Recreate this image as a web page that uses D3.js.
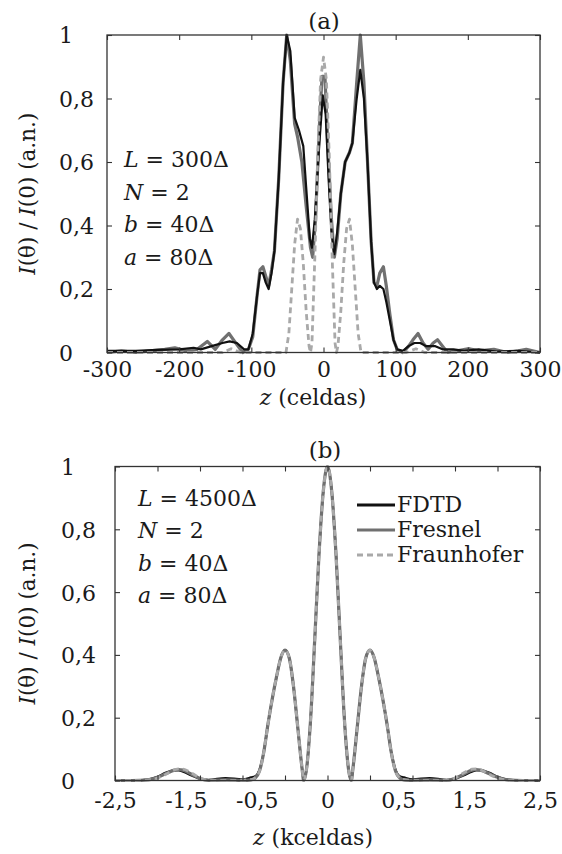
<!DOCTYPE html>
<html>
<head>
<meta charset="utf-8">
<script src="https://d3js.org/d3.v7.min.js"></script>
<style>
body { margin: 0; background: #fff; }
text { font-family: "DejaVu Serif", "Liberation Serif", serif; fill: #1a1a1a; }
</style>
</head>
<body>
<script>
// ---- panel (a): L = 300 cells, z in cells ----
var zA_fdtd = [-300,-260,-230,-200,-180,-170,-155,-140,-130,-120,-110,-104,-98,-92,-88,-84,-80,-76,-72,-68,-62,-56,-51,-46,-40,-34,-28,-24,-19,-16,-12,-6,-1,3,7,11,15,19,24,30,36,40,46,51,56,61,66,70,74,78,83,87,92,97,102,110,118,126,134,142,155,165,180,195,215,240,270,300];
var iA_fdtd = [0.005,0.005,0.008,0.01,0.015,0.01,0.02,0.03,0.035,0.03,0.01,0.01,0.06,0.18,0.25,0.25,0.22,0.2,0.25,0.32,0.55,0.85,1.0,0.95,0.74,0.7,0.65,0.52,0.36,0.33,0.42,0.65,0.81,0.75,0.55,0.38,0.31,0.38,0.5,0.6,0.63,0.66,0.8,0.89,0.8,0.6,0.35,0.22,0.2,0.21,0.2,0.16,0.1,0.04,0.01,0.005,0.02,0.03,0.03,0.02,0.02,0.01,0.01,0.005,0.01,0.003,0.005,0.0];

var zA_fresnel = [-300,-280,-260,-240,-220,-206,-190,-175,-161,-150,-140,-131,-120,-112,-104,-98,-92,-88,-84,-80,-76,-72,-68,-62,-56,-51,-46,-40,-36,-30,-24,-18,-15,-11,-6,-2,2,6,11,15,19,24,30,36,40,46,51,56,61,66,70,74,78,83,87,92,97,102,110,118,124,131,138,145,152,158,165,172,185,202,215,236,255,270,281,300];
var iA_fresnel = [0.0,0.005,0.0,0.005,0.01,0.015,0.005,0.01,0.035,0.01,0.04,0.06,0.025,0.0,0.01,0.05,0.18,0.26,0.27,0.24,0.21,0.26,0.32,0.55,0.85,1.0,0.92,0.72,0.68,0.6,0.46,0.33,0.3,0.42,0.7,0.87,0.87,0.65,0.42,0.3,0.36,0.5,0.6,0.63,0.66,0.85,1.0,0.85,0.6,0.35,0.22,0.21,0.25,0.27,0.21,0.12,0.04,0.01,0.0,0.02,0.04,0.06,0.03,0.01,0.03,0.04,0.02,0.0,0.005,0.012,0.005,0.01,0.0,0.005,0.01,0.0];

var zA_fraun = [-300,-140,-128,-115,-60,-52,-48,-44,-40,-36,-32,-28,-24,-20,-18,-16,-12,-8,-4,0,4,8,12,16,18,20,24,28,32,36,40,44,48,52,60,115,128,140,300];
var iA_fraun = [0,0,0.012,0,0,0,0.06,0.2,0.34,0.42,0.39,0.28,0.13,0.02,0,0.03,0.3,0.62,0.86,0.93,0.86,0.62,0.3,0.03,0,0.02,0.13,0.28,0.39,0.42,0.34,0.2,0.06,0,0,0,0.012,0,0];

// ---- panel (b): L = 4500 cells, z in kcells ----
var zB = [-2.5,-2.3,-2.1,-2.0,-1.9,-1.8,-1.75,-1.7,-1.6,-1.5,-1.4,-1.2,-1.0,-0.9,-0.85,-0.8,-0.75,-0.7,-0.65,-0.6,-0.55,-0.5,-0.45,-0.4,-0.35,-0.3,-0.28,-0.25,-0.2,-0.15,-0.1,-0.05,0,
          0.05,0.1,0.15,0.2,0.25,0.28,0.3,0.35,0.4,0.45,0.5,0.55,0.6,0.65,0.7,0.75,0.8,0.85,0.9,1.0,1.2,1.4,1.5,1.6,1.7,1.75,1.8,1.9,2.0,2.1,2.3,2.5];
var iB_fdtd = [0,0,0.004,0.012,0.025,0.032,0.032,0.028,0.016,0.005,0.002,0.008,0.004,0.01,0.014,0.035,0.09,0.18,0.26,0.33,0.39,0.415,0.39,0.3,0.17,0.04,0.0,0.03,0.19,0.45,0.72,0.92,1.0,
               0.92,0.72,0.45,0.19,0.03,0.0,0.04,0.17,0.3,0.39,0.415,0.39,0.33,0.26,0.18,0.09,0.035,0.014,0.01,0.004,0.008,0.002,0.005,0.016,0.028,0.032,0.032,0.025,0.012,0.004,0,0];
var iB_fresnel = [0,0,0.003,0.01,0.022,0.033,0.035,0.033,0.02,0.006,0.0,0.002,0.0,0.002,0.008,0.03,0.09,0.18,0.26,0.33,0.39,0.415,0.39,0.3,0.17,0.04,0.0,0.03,0.19,0.45,0.72,0.92,1.0,
                  0.92,0.72,0.45,0.19,0.03,0.0,0.04,0.17,0.3,0.39,0.415,0.39,0.33,0.26,0.18,0.09,0.03,0.008,0.002,0.0,0.002,0.0,0.006,0.02,0.033,0.035,0.033,0.022,0.01,0.003,0,0];
var iB_fraun = [0,0,0.002,0.008,0.02,0.034,0.037,0.036,0.024,0.008,0.001,0.0,0.001,0.003,0.009,0.03,0.09,0.18,0.26,0.33,0.39,0.415,0.39,0.3,0.17,0.04,0.0,0.03,0.19,0.45,0.72,0.92,1.0,
                0.92,0.72,0.45,0.19,0.03,0.0,0.04,0.17,0.3,0.39,0.415,0.39,0.33,0.26,0.18,0.09,0.03,0.009,0.003,0.001,0.0,0.001,0.008,0.024,0.036,0.037,0.034,0.02,0.008,0.002,0,0];

var yTicks = [0, 0.2, 0.4, 0.6, 0.8, 1];
var xTicksA = [-300, -200, -100, 0, 100, 200, 300];
var xLabelsA = ["-300", "-200", "-100", "0", "100", "200", "300"];
var xTicksB = [-2.5, -2, -1.5, -1, -0.5, 0, 0.5, 1, 1.5, 2, 2.5];
// the labels in (b) sit evenly along the axis, not under the ticks
var xLabelsB = ["-2,5", "-1,5", "-0,5", "0", "0,5", "1,5", "2,5"];
var legendNames = ["FDTD", "Fresnel", "Fraunhofer"];

var styles = {
  FDTD:       { stroke: "#111", width: 2.2, dash: null },
  Fresnel:    { stroke: "#707070", width: 3.2, dash: null },
  Fraunhofer: { stroke: "#a9a9a9", width: 2.8, dash: "6,4" }
};

var svg = d3.select("body").append("svg").attr("width", 562).attr("height", 854);

function comma(d) { return String(d).replace(".", ","); }

function zip(zs, is) { return zs.map(function (z, k) { return [z, is[k]]; }); }

function drawPanel(p) {
  var x = d3.scaleLinear().domain(p.xDomain).range([p.left, p.right]);
  var y = d3.scaleLinear().domain([0, 1]).range([p.bottom, p.top]);
  var xLab = d3.scalePoint().domain(p.xLabels).range([p.left, p.right]);

  var g = svg.append("g");

  // curves
  var line = d3.line().x(function (d) { return x(d[0]); }).y(function (d) { return y(d[1]); }).curve(p.curve);
  p.series.forEach(function (s) {
    var st = styles[s.name];
    g.append("path").datum(zip(s.z, s.i))
      .attr("d", line).attr("fill", "none")
      .attr("stroke", st.stroke).attr("stroke-width", st.width)
      .attr("stroke-dasharray", st.dash)
      .attr("stroke-linejoin", "round");
  });

  // axes, ticks pointing inwards
  g.append("g").attr("transform", "translate(0," + p.bottom + ")")
    .call(d3.axisBottom(x).tickValues(p.xTicks).tickSize(-5).tickFormat(""));

  var labs = g.append("g").attr("class", "labs").attr("transform", "translate(0," + p.bottom + ")")
    .call(d3.axisBottom(xLab).tickSize(0));
  labs.selectAll("text").attr("y", p.xLabelOffset).attr("dy", null);
  labs.selectAll(".tick line").remove();

  g.append("g").attr("transform", "translate(0," + p.top + ")")
    .call(d3.axisTop(x).tickValues(p.xTicks).tickSize(-5).tickFormat(""));

  var left = g.append("g").attr("transform", "translate(" + p.left + ",0)")
    .call(d3.axisLeft(y).tickValues(yTicks).tickSize(-5).tickFormat(comma));
  left.selectAll("text").attr("text-anchor", "start").attr("x", p.yLabelX - p.left).attr("dy", "0.36em");

  g.append("g").attr("transform", "translate(" + p.right + ",0)")
    .call(d3.axisRight(y).tickValues(yTicks).tickSize(-5).tickFormat(""));

  g.selectAll(".domain").remove();
  g.selectAll(".tick line").attr("stroke", "#333").attr("stroke-width", 1.1);
  g.selectAll(".tick text").attr("font-size", 22).attr("fill", "#1a1a1a")
    .attr("font-family", "DejaVu Serif");

  g.append("rect").attr("x", p.left).attr("y", p.top)
    .attr("width", p.right - p.left).attr("height", p.bottom - p.top)
    .attr("fill", "none").attr("stroke", "#333").attr("stroke-width", 1.3);

  // title
  g.append("text").attr("x", p.titleX).attr("y", p.titleY)
    .attr("text-anchor", "middle").attr("font-size", 23).text(p.title);

  // x label
  var xl = g.append("text").attr("x", 313).attr("y", p.xTitleY)
    .attr("text-anchor", "middle").attr("font-size", 22);
  xl.append("tspan").attr("font-style", "italic").text("z");
  xl.append("tspan").text(" (" + p.unit + ")");

  // y label
  var yl = g.append("text")
    .attr("transform", "translate(35," + ((p.top + p.bottom) / 2) + ") rotate(-90)")
    .attr("text-anchor", "middle").attr("font-size", 21.5);
  yl.append("tspan").attr("font-style", "italic").text("I");
  yl.append("tspan").text("(θ) / ");
  yl.append("tspan").attr("font-style", "italic").text("I");
  yl.append("tspan").text("(0) (a.n.)");

  // parameters
  p.params.forEach(function (row, k) {
    var t = g.append("text").attr("x", p.paramX).attr("y", p.paramY + k * p.paramStep)
      .attr("font-size", 22);
    t.append("tspan").attr("font-style", "italic").text(row[0]);
    t.append("tspan").text(" = " + row[1]);
  });

  return g;
}

drawPanel({
  left: 107, right: 540, top: 35, bottom: 352.5,
  xDomain: [-300, 300], xTicks: xTicksA, xLabels: xLabelsA, xLabelOffset: 24.5,
  yLabelX: 59, curve: d3.curveLinear,
  title: "(a)", titleX: 324, titleY: 29, xTitleY: 405, unit: "celdas",
  params: [["L", "300Δ"], ["N", "2"], ["b", "40Δ"], ["a", "80Δ"]],
  paramX: 124, paramY: 167, paramStep: 32.7,
  series: [
    { name: "Fresnel", z: zA_fresnel, i: iA_fresnel },
    { name: "FDTD", z: zA_fdtd, i: iA_fdtd },
    { name: "Fraunhofer", z: zA_fraun, i: iA_fraun }
  ]
});

var gB = drawPanel({
  left: 115, right: 540, top: 466.5, bottom: 780.5,
  xDomain: [-2.5, 2.5], xTicks: xTicksB, xLabels: xLabelsB, xLabelOffset: 27.5,
  yLabelX: 61, curve: d3.curveMonotoneX,
  title: "(b)", titleX: 325, titleY: 458, xTitleY: 845, unit: "kceldas",
  params: [["L", "4500Δ"], ["N", "2"], ["b", "40Δ"], ["a", "80Δ"]],
  paramX: 138, paramY: 506, paramStep: 32.3,
  series: [
    { name: "FDTD", z: zB, i: iB_fdtd },
    { name: "Fresnel", z: zB, i: iB_fresnel },
    { name: "Fraunhofer", z: zB, i: iB_fraun }
  ]
});

// legend (panel b)
legendNames.forEach(function (name, k) {
  var st = styles[name];
  var yy = 505 + k * 25;
  gB.append("line").attr("x1", 357).attr("x2", 395).attr("y1", yy).attr("y2", yy)
    .attr("stroke", st.stroke).attr("stroke-width", name === "FDTD" ? 3 : st.width)
    .attr("stroke-dasharray", st.dash);
  gB.append("text").attr("x", 397).attr("y", yy + 7).attr("font-size", 22).text(name);
});
</script>
</body>
</html>
